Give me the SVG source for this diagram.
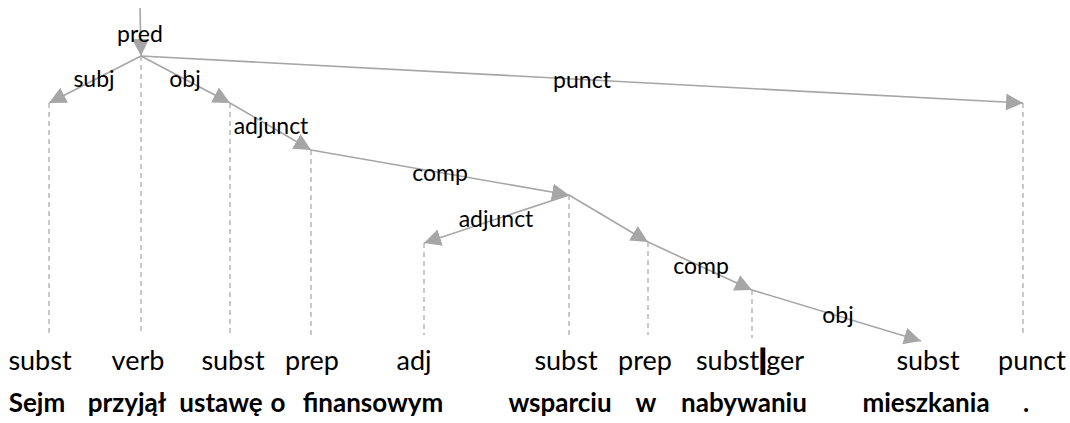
<svg xmlns="http://www.w3.org/2000/svg" width="1070" height="423" viewBox="0 0 1070 423">
<style>
.edge{stroke:#a6a6a6;stroke-width:1.6;fill:none;marker-end:url(#ah)}
.dash{stroke:#a6a6a6;stroke-width:1.2;stroke-dasharray:5,4;fill:none}
.lbl{font-family:Lato,"Liberation Sans",sans-serif;font-size:23px;fill:#000;text-anchor:middle}
.pos{font-family:Lato,"Liberation Sans",sans-serif;font-size:27px;fill:#000;text-anchor:middle}
.word{font-family:Lato,"Liberation Sans",sans-serif;font-size:26px;font-weight:bold;fill:#000;text-anchor:middle}
.bar{font-weight:bold;stroke:#000;stroke-width:2.2}
</style>
<defs>
<marker id="ah" markerUnits="userSpaceOnUse" markerWidth="20" markerHeight="20" refX="17" refY="8.5" orient="auto" viewBox="0 0 20 20">
<path d="M0,0 L17,8.5 L0,17 Z" fill="#a6a6a6"/>
</marker>
</defs>
<rect width="1070" height="423" fill="#fff"/>
<g id="connectors">
<path class="edge" d="M140,8 L141,56"/>
<path class="edge" d="M141,56 L49,103"/>
<path class="edge" d="M141,56 L230,103"/>
<path class="edge" d="M141,56 L1023,103"/>
<path class="edge" d="M230,103 L311,150"/>
<path class="edge" d="M311,150 L569,195"/>
<path class="edge" d="M569,195 L424,243"/>
<path class="edge" d="M569,195 L648,242"/>
<path class="edge" d="M648,242 L752,290"/>
<path class="edge" d="M752,290 L921,341"/>
<text class="lbl" x="140" y="42">pred</text>
<text class="lbl" x="94" y="87">subj</text>
<text class="lbl" x="185" y="87">obj</text>
<text class="lbl" x="582" y="88">punct</text>
<text class="lbl" x="271" y="134">adjunct</text>
<text class="lbl" x="440" y="181">comp</text>
<text class="lbl" x="496" y="227">adjunct</text>
<text class="lbl" x="701" y="274">comp</text>
<text class="lbl" x="838" y="323">obj</text>
</g>
<g id="n1"><path class="dash" d="M49,103 V335"/><text class="pos" x="40" y="370">subst</text><text class="word" x="37" y="412">Sejm</text></g>
<g id="n2"><path class="dash" d="M141,56 V335"/><text class="pos" x="138" y="370">verb</text><text class="word" x="127" y="412">przyjął</text></g>
<g id="n3"><path class="dash" d="M230,103 V335"/><text class="pos" x="233" y="370">subst</text><text class="word" x="221" y="412">ustawę</text></g>
<g id="n4"><path class="dash" d="M311,150 V335"/><text class="pos" x="312" y="370">prep</text><text class="word" x="278" y="412">o</text></g>
<g id="n5"><path class="dash" d="M424,243 V335"/><text class="pos" x="414" y="370">adj</text><text class="word" x="373" y="412">finansowym</text></g>
<g id="n6"><path class="dash" d="M569,195 V335"/><text class="pos" x="566" y="370">subst</text><text class="word" x="560" y="412">wsparciu</text></g>
<g id="n7"><path class="dash" d="M648,242 V335"/><text class="pos" x="645" y="370">prep</text><text class="word" x="646" y="412">w</text></g>
<g id="n8"><path class="dash" d="M752,290 V338"/><text class="pos" x="750" y="370">subst<tspan class="bar">|</tspan>ger</text><text class="word" x="744" y="412">nabywaniu</text></g>
<g id="n9"><text class="pos" x="928" y="370">subst</text><text class="word" x="926" y="412">mieszkania</text></g>
<g id="n10"><path class="dash" d="M1023,103 V337"/><text class="pos" x="1032" y="370">punct</text><text class="word" x="1026" y="412">.</text></g>
</svg>
